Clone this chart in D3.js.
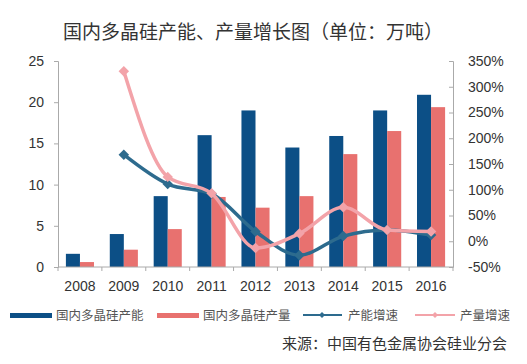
<!DOCTYPE html>
<html><head><meta charset="utf-8">
<script src="https://cdn.jsdelivr.net/npm/d3@7/dist/d3.min.js"></script>
<style>body{margin:0;background:#fff;}svg{display:block;}</style>
</head><body><svg id="c" width="527" height="364"></svg>
<script>
const years = ["2008","2009","2010","2011","2012","2013","2014","2015","2016"];
const capacity = [1.6, 4.0, 8.6, 16.0, 19.0, 14.5, 15.9, 19.0, 20.9];
const production = [0.6, 2.1, 4.6, 8.5, 7.2, 8.6, 13.7, 16.5, 19.4];
const capGrowth = [null, 168, 111, 92, 19, -27, 10, 22, 12];
const prodGrowth = [null, 330, 125, 93, -13, 15, 66, 22, 19];
const leftTicks = [0,5,10,15,20,25];
const rightTicks = [-50,0,50,100,150,200,250,300,350];
const seriesNames = ["国内多晶硅产能","国内多晶硅产量","产能增速","产量增速"];
const title = "国内多晶硅产能、产量增长图（单位：万吨）";
const source = "来源：中国有色金属协会硅业分会";

const C = {cap:"#0c4f86", prod:"#e8716f", capL:"#2d6b8e", prodL:"#f3a3a9"};
const svg = d3.select("#c");
const m = {l:58, r:453, t:61, b:267};
const x = d3.scaleBand().domain(years).range([m.l, m.r]).paddingInner(0.36).paddingOuter(0.18);
const xc = d => x(d) + x.bandwidth()/2;
const yL = d3.scaleLinear().domain([0,25]).range([m.b, m.t]);
const yR = d3.scaleLinear().domain([-50,350]).range([m.b, m.t]);
const cjk = "'Noto Sans CJK SC', sans-serif";
const lat = "'Liberation Sans', Arial, sans-serif";

svg.append("text").attr("x",253).attr("y",39).attr("text-anchor","middle")
  .attr("font-family",cjk).attr("font-size",19).attr("fill","#333").text(title);

// bars
const bw = x.bandwidth()/2;
svg.append("g").selectAll("rect").data(capacity).join("rect")
  .attr("x",(d,i)=>x(years[i])).attr("width",bw)
  .attr("y",d=>yL(d)).attr("height",d=>yL(0)-yL(d)).attr("fill",C.cap);
svg.append("g").selectAll("rect").data(production).join("rect")
  .attr("x",(d,i)=>x(years[i])+bw).attr("width",bw)
  .attr("y",d=>yL(d)).attr("height",d=>yL(0)-yL(d)).attr("fill",C.prod);

// axes
const ax = "#aaa";
const gl = svg.append("g").attr("transform",`translate(${m.l},0)`)
  .call(d3.axisLeft(yL).tickValues(leftTicks).tickSize(4).tickPadding(10));
const gr = svg.append("g").attr("transform",`translate(${m.r},0)`)
  .call(d3.axisRight(yR).tickValues(rightTicks).tickSize(-4).tickPadding(15).tickFormat(d=>d+"%"));
const gx = svg.append("g").attr("transform",`translate(0,${m.b})`)
  .call(d3.axisBottom(x).tickSize(0).tickPadding(14));
[gl,gr,gx].forEach(g=>{
  g.selectAll("path").attr("stroke",ax);
  g.selectAll("line").attr("stroke",ax);
  g.selectAll("text").attr("font-family",lat).attr("font-size",14).attr("fill","#333");
});
gx.select("path").attr("d",`M${m.l},0H${m.r}`);
svg.append("g").selectAll("line").data(d3.range(years.length+1)).join("line")
  .attr("x1",i=>m.l+i*(m.r-m.l)/years.length).attr("x2",i=>m.l+i*(m.r-m.l)/years.length)
  .attr("y1",m.b).attr("y2",m.b+4).attr("stroke",ax);

// lines
function drawLine(vals,color){
  const pts = vals.map((v,i)=>[xc(years[i]), v]).filter(p=>p[1]!==null);
  const line = d3.line().x(p=>p[0]).y(p=>yR(p[1])).curve(d3.curveMonotoneX);
  svg.append("path").datum(pts).attr("d",line).attr("fill","none")
    .attr("stroke",color).attr("stroke-width",3.5).attr("stroke-linejoin","round");
  svg.append("g").selectAll("path").data(pts).join("path")
    .attr("transform",p=>`translate(${p[0]},${yR(p[1])})`)
    .attr("d",d3.symbol(d3.symbolDiamond2,70)).attr("fill",color);
}
drawLine(capGrowth,C.capL);
drawLine(prodGrowth,C.prodL);

// legend
const ly = 316;
const lg = svg.append("g").attr("font-family",cjk).attr("font-size",12.5).attr("fill","#555");
lg.append("rect").attr("x",10).attr("y",ly-3).attr("width",42).attr("height",5).attr("fill",C.cap);
lg.append("text").attr("x",56).attr("y",ly+4).text(seriesNames[0]);
lg.append("rect").attr("x",157).attr("y",ly-3).attr("width",42).attr("height",5).attr("fill",C.prod);
lg.append("text").attr("x",203).attr("y",ly+4).text(seriesNames[1]);
lg.append("line").attr("x1",303).attr("x2",342).attr("y1",ly-1).attr("y2",ly-1).attr("stroke",C.capL).attr("stroke-width",2);
lg.append("path").attr("transform",`translate(322,${ly-1})`).attr("d",d3.symbol(d3.symbolDiamond2,24)).attr("fill",C.capL);
lg.append("text").attr("x",348).attr("y",ly+4).text(seriesNames[2]);
lg.append("line").attr("x1",415).attr("x2",455).attr("y1",ly-1).attr("y2",ly-1).attr("stroke",C.prodL).attr("stroke-width",2);
lg.append("path").attr("transform",`translate(435,${ly-1})`).attr("d",d3.symbol(d3.symbolDiamond2,24)).attr("fill",C.prodL);
lg.append("text").attr("x",460).attr("y",ly+4).text(seriesNames[3]);

svg.append("text").attr("x",507).attr("y",349).attr("text-anchor","end")
  .attr("font-family",cjk).attr("font-size",15).attr("fill","#333").text(source);
</script></body></html>
